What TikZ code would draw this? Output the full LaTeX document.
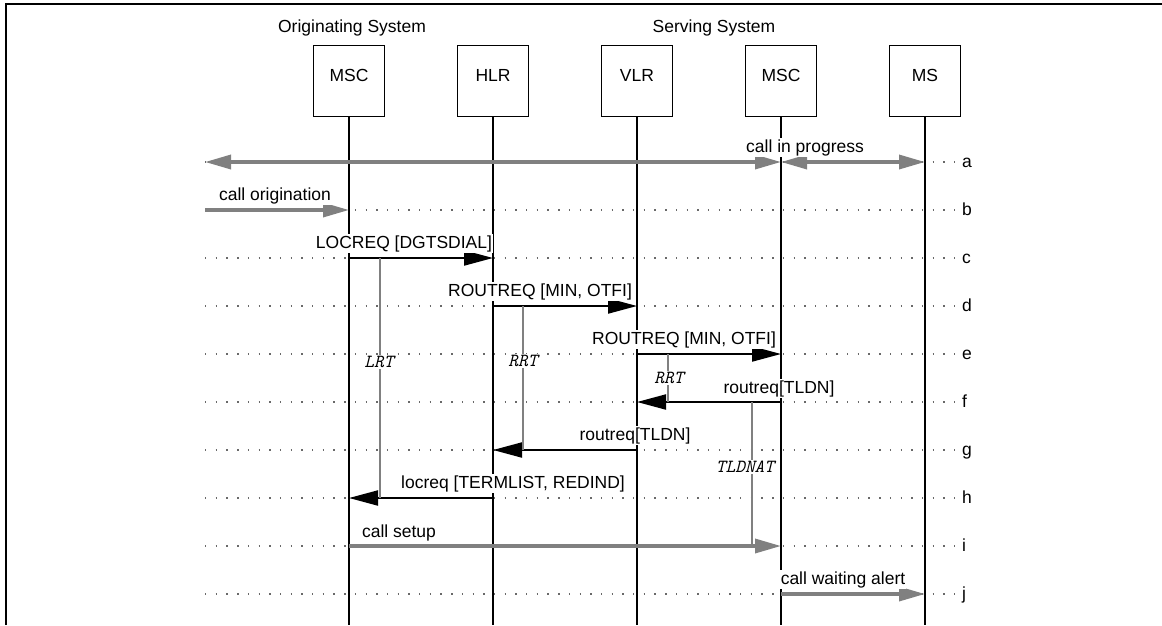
\documentclass[tikz,border=0pt]{standalone}
\usepackage{fontspec}
\setmainfont{Liberation Sans}
\usetikzlibrary{arrows.meta}
\definecolor{cgray}{RGB}{128,128,128}
\definecolor{cdot}{RGB}{105,105,105}
\tikzset{msc/.style={x=1pt,y=-1pt,font=\fontsize{17.5}{21}\selectfont},
  btip/.tip={Triangle[length=29pt,width=15pt]},
  gtip/.tip={Triangle[length=26pt,width=14pt]},
  entity/.style={draw,line width=1.6pt,minimum width=71pt,minimum height=71pt,inner sep=0pt,text depth=12pt},
  life/.style={line width=1.6pt},
  rowline/.style={cdot,line width=1.4pt,dash pattern=on 1.4pt off 9.3pt},
  sig/.style={line width=2pt,-btip},
  bsig/.style={cgray,line width=3.4pt,-gtip},
  msg/.style={anchor=base,fill=white,inner sep=1pt},
  timer/.style={cgray,line width=1.6pt},
  timerlbl/.style={fill=white,inner sep=1pt,font=\ttfamily\fontsize{18.5}{20}\selectfont\itshape}}

\begin{document}
\begin{tikzpicture}[msc]
    \useasboundingbox (0,0) rectangle (1162,625);
    \draw[line width=2pt] (6,625) -- (6,4) -- (1162,4);
    \coordinate (lft) at (205,0);
    \coordinate (bot) at (0,625);
    \foreach \r [count=\i from 0] in {a,b,c,d,e,f,g,h,i,j} {
      \coordinate (row\r) at (960,{162+48*\i});
      \node[anchor=base west,inner sep=0pt] (lbl\r) at (962,{167+48*\i}) {\r};
      \draw[rowline] (lft |- row\r) -- (row\r);
    }
    \node[anchor=base] (orig) at (352,32) {Originating System};
    \node[anchor=base] (serv) at (714,32) {Serving System};
    \foreach \n/\x/\t in {msco/349/MSC,hlr/493/HLR,vlr/637/VLR,mscs/781/MSC,ms/925/MS} {
      \node[entity] (\n) at (\x,81) {\t};
      \draw[life] (\n) -- (\n |- bot);
    }
    \draw[bsig,gtip-gtip] (lft |- rowa) -- (mscs |- rowa);
    \draw[bsig,gtip-gtip] (mscs |- rowa) -- (ms |- rowa);
    \draw[bsig] (lft |- rowb) -- (msco |- rowb);
    \draw[sig] (msco |- rowc) -- (hlr |- rowc);
    \draw[sig] (hlr |- rowd) -- (vlr |- rowd);
    \draw[sig] (vlr |- rowe) -- (mscs |- rowe);
    \draw[sig] (mscs |- rowf) -- (vlr |- rowf);
    \draw[sig] (vlr |- rowg) -- (hlr |- rowg);
    \draw[sig] (hlr |- rowh) -- (msco |- rowh);
    \draw[bsig] (msco |- rowi) -- (mscs |- rowi);
    \draw[bsig] (mscs |- rowj) -- (ms |- rowj);
    \draw[timer] (380,0 |- rowc) -- (380,0 |- rowh);
    \draw[timer] (523,0 |- rowd) -- (523,0 |- rowg);
    \draw[timer] (668,0 |- rowe) -- (668,0 |- rowf);
    \draw[timer] (752,0 |- rowf) -- (752,0 |- rowi);
    \node[timerlbl] (lrt) at (379,362) {LRT};
    \node[timerlbl] (rrth) at (523,361) {RRT};
    \node[timerlbl] (rrtv) at (669,378) {RRT};
    \node[timerlbl] (tldnat) at (745,467) {TLDNAT};
    \node[msg] (ma) at (805,152) {call in progress};
    \node[msg] (mb) at (275,200) {call origination};
    \node[msg] (mc) at (404,248) {LOCREQ [DGTSDIAL]};
    \node[msg] (md) at (540,296) {ROUTREQ [MIN, OTFI]};
    \node[msg] (me) at (684,344) {ROUTREQ [MIN, OTFI]};
    \node[msg] (mf) at (779,393) {routreq[TLDN]};
    \node[msg] (mg) at (635,440) {routreq[TLDN]};
    \node[msg] (mh) at (513,488) {locreq [TERMLIST, REDIND]};
    \node[msg] (mi) at (399,537) {call setup};
    \node[msg] (mj) at (843,584) {call waiting alert};
\end{tikzpicture}
\end{document}
